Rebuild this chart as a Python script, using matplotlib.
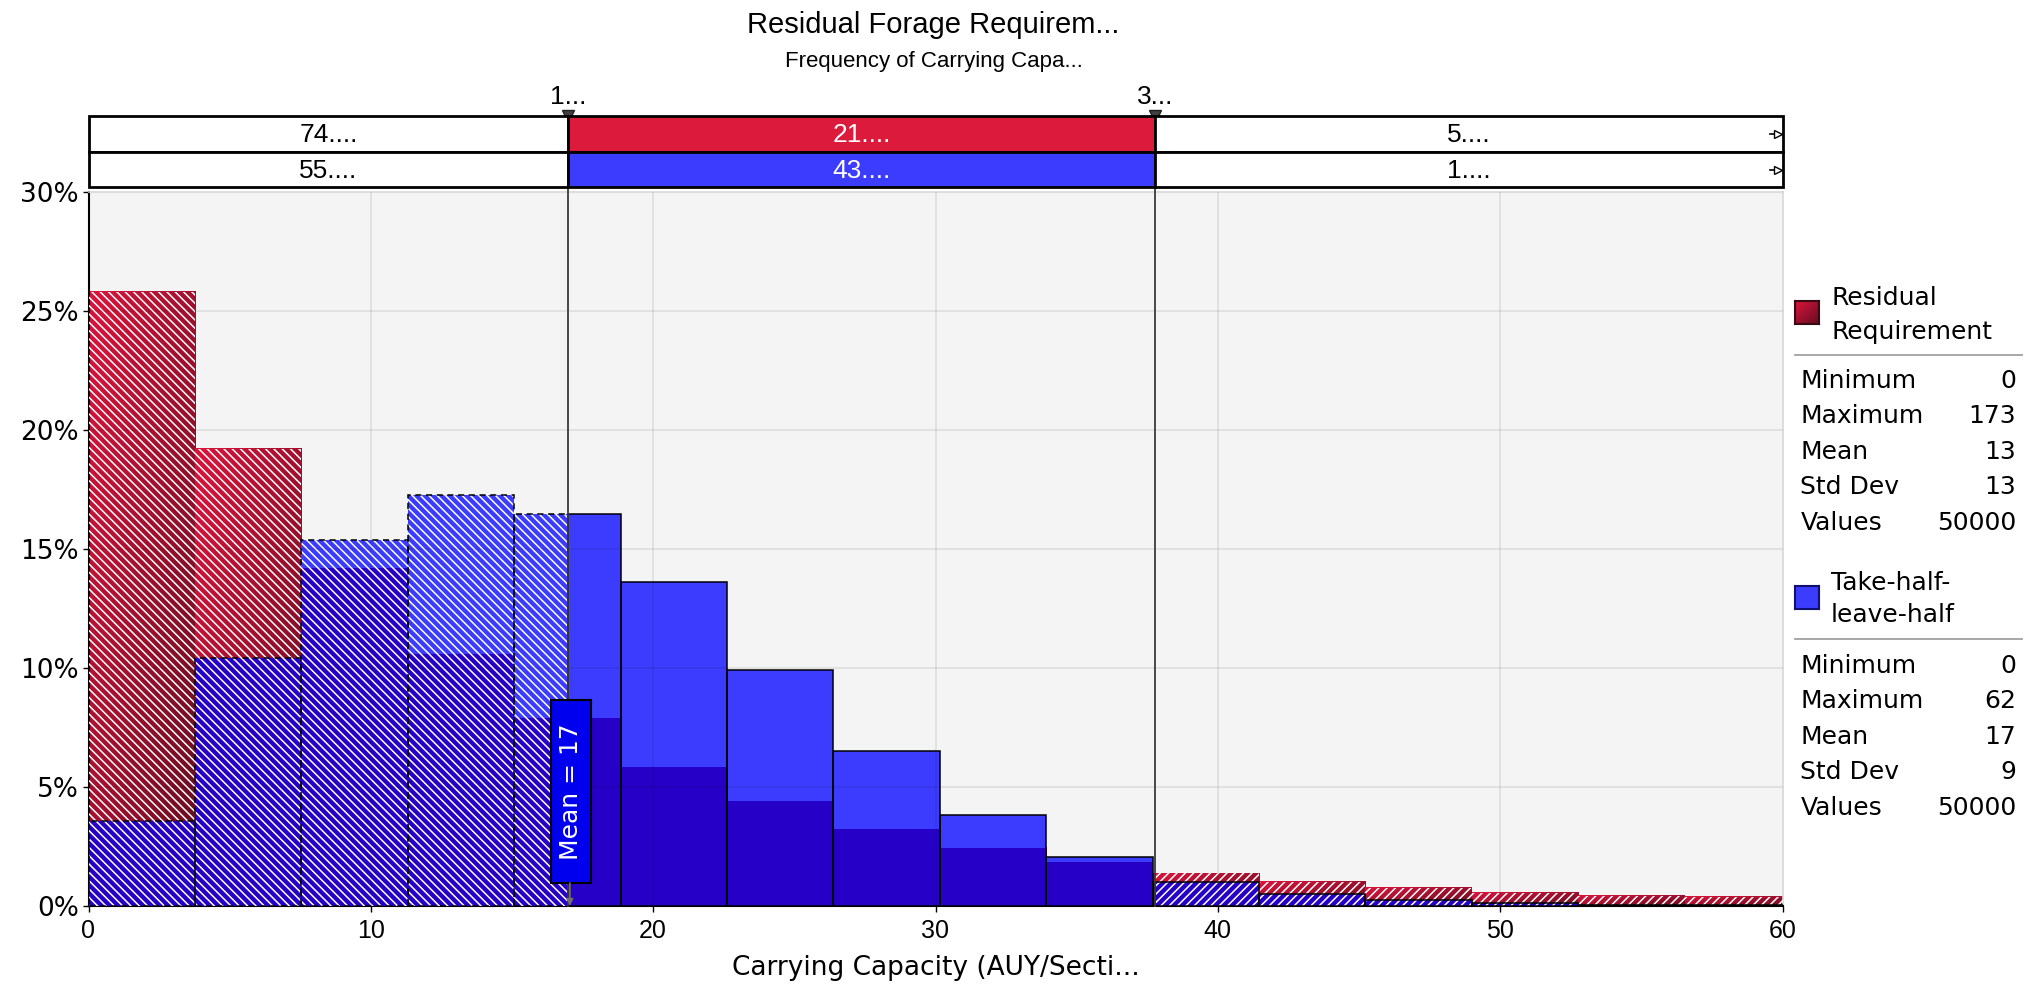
import numpy as np
import matplotlib
matplotlib.use("Agg")
import matplotlib.pyplot as plt
from matplotlib.patches import Rectangle
from matplotlib.lines import Line2D
from matplotlib.colors import LinearSegmentedColormap
from matplotlib.transforms import blended_transform_factory

# ---------------- data ----------------
bin_width = 3.769
residual_pct = [25.8, 19.2, 14.2, 10.6, 7.9, 5.85, 4.4, 3.25, 2.45, 1.83,
                1.38, 1.01, 0.76, 0.56, 0.42, 0.38]
takehalf_pct = [3.56, 10.4, 15.35, 17.25, 16.45, 13.6, 9.9, 6.5, 3.83, 2.04,
                0.99, 0.49, 0.24, 0.13, 0.06, 0.03]
x_ticks = [0, 10, 20, 30, 40, 50, 60]
y_ticks = [0, 5, 10, 15, 20, 25, 30]
y_tick_labels = ['0%', '5%', '10%', '15%', '20%', '25%', '30%']
delimiters = [17.0, 37.78]
delimiter_labels = ['1...', '3...']
residual_bands = ['74....', '21....', '5....']
takehalf_bands = ['55....', '43....', '1....']
stat_names = ['Minimum', 'Maximum', 'Mean', 'Std Dev', 'Values']
residual_stats = ['0', '173', '13', '13', '50000']
takehalf_stats = ['0', '62', '17', '9', '50000']
takehalf_mean = 17
series_names = [['Residual', 'Requirement'], ['Take-half-', 'leave-half']]
title = 'Residual Forage Requirem...'
subtitle = 'Frequency of Carrying Capa...'
xlabel = 'Carrying Capacity (AUY/Secti...'

# ---------------- style ----------------
CRIMSON = '#DC143C'
CRIMSON_DARK = '#640D20'
BLUE = '#3C3CFF'
OVERLAP = '#2600C6'
PLOT_BG = '#F4F4F4'
NARROW = ['Liberation Sans', 'DejaVu Sans']
WIDE = ['DejaVu Sans']

plt.rcParams['hatch.color'] = 'white'
plt.rcParams['hatch.linewidth'] = 1.1

W, H = 2029, 988


def fx(px):
    return px / W


def fy(py):
    return 1 - py / H


fig = plt.figure(figsize=(W / 100, H / 100), dpi=100)
fig.patch.set_facecolor('white')

X0, X1, Y0, Y1 = 88.5, 1782.5, 191.5, 906.0
ax = fig.add_axes([fx(X0), fy(Y1), (X1 - X0) / W, (Y1 - Y0) / H])
ax.set_facecolor(PLOT_BG)

red_cmap = LinearSegmentedColormap.from_list('redgrad', [CRIMSON, CRIMSON_DARK])
gx, gy = np.meshgrid(np.linspace(0, 1, 64), np.linspace(0, 1, 64))
grad = (gx + gy) / 2.0

edges = np.arange(len(residual_pct) + 1) * bin_width
back = '\\' * 4
fwd = '/' * 4
regions = [
    (0.0, delimiters[0], back, (0, (4, 3))),
    (delimiters[0], delimiters[1], None, 'solid'),
    (delimiters[1], edges[-1] + 1, fwd, 'solid'),
]

for i in range(len(residual_pct)):
    lo, hi = edges[i], edges[i + 1]
    r, t = residual_pct[i], takehalf_pct[i]
    ax.imshow(grad, extent=(lo, hi, 0, r), cmap=red_cmap, vmin=0, vmax=1,
              aspect='auto', origin='upper', interpolation='bilinear', zorder=2)
    for rlo, rhi, hatch, ls in regions:
        a, b = max(lo, rlo), min(hi, rhi)
        if b - a <= 1e-9:
            continue
        ax.bar(a, t, width=b - a, align='edge', color=BLUE, lw=0, zorder=3)
        ax.bar(a, min(r, t), width=b - a, align='edge', color=OVERLAP, lw=0, zorder=4)
        if hatch:
            ax.bar(a, max(r, t), width=b - a, align='edge', facecolor='none',
                   edgecolor='white', lw=0, hatch=hatch, zorder=5)
        ax.bar(a, t, width=b - a, align='edge', facecolor='none',
               edgecolor='black', lw=1.1, ls=ls, zorder=6)

# grid drawn over the bars, faint
for xv in x_ticks[1:-1]:
    ax.axvline(xv, color='black', alpha=0.09, lw=1.2, zorder=7)
for yv in y_ticks[1:-1]:
    ax.axhline(yv, color='black', alpha=0.09, lw=1.2, zorder=7)

ax.set_xlim(0, 60)
ax.set_ylim(0, 30)
ax.set_xticks(x_ticks)
ax.set_xticklabels([str(v) for v in x_ticks], family=NARROW, fontsize=18)
ax.set_yticks(y_ticks)
ax.set_yticklabels(y_tick_labels, family=WIDE, fontsize=19)
ax.tick_params(axis='x', length=4, width=1, pad=5, direction='out')
ax.tick_params(axis='y', length=4, width=1, pad=3, direction='out')
for side in ('left', 'bottom'):
    ax.spines[side].set_color('black')
    ax.spines[side].set_linewidth(1.5)
for side in ('top', 'right'):
    ax.spines[side].set_color('#D8D8D8')
    ax.spines[side].set_linewidth(1.2)
ax.set_xlabel(xlabel, family=WIDE, fontsize=19, labelpad=9)

# mean marker for Take-half-leave-half
box_lo, box_hi, box_w = 0.97, 8.65, 1.42
ax.add_patch(Rectangle((takehalf_mean - box_w / 2 + 0.08, box_lo), box_w, box_hi - box_lo,
                       facecolor='#0000EE', edgecolor='black', lw=1.5, zorder=10))
ax.text(takehalf_mean + 0.08, (box_lo + box_hi) / 2, f'Mean = {takehalf_mean}', rotation=90,
        color='white', ha='center', va='center', fontsize=18, family=WIDE, zorder=11)
ax.annotate('', xy=(takehalf_mean + 0.05, 0), xytext=(takehalf_mean + 0.05, box_lo),
            arrowprops=dict(arrowstyle='-|>,head_width=0.2,head_length=0.4',
                            color='#707070', lw=1.2, shrinkA=0, shrinkB=0), zorder=11)

# delimiter lines, markers and labels
ftrans = blended_transform_factory(ax.transData, fig.transFigure)
for d, lab in zip(delimiters, delimiter_labels):
    ax.add_line(Line2D([d, d], [fy(118), fy(Y1)], transform=ftrans, color='#3A3A3A',
                       lw=1.3, clip_on=False, zorder=9))
    ax.add_line(Line2D([d], [fy(116)], transform=ftrans, marker='v', markersize=9,
                       markerfacecolor='#404040', markeredgecolor='#202020',
                       clip_on=False, zorder=12))
    fig.text(0, 0, lab, transform=ftrans, fontsize=19, family=NARROW,
             ha='center', va='baseline').set_position((d, fy(104)))

# delimiter band panel above the plot
PY0, PY1 = 116.5, 187.5
pax = fig.add_axes([fx(X0), fy(PY1), (X1 - X0) / W, (PY1 - PY0) / H])
pax.set_xlim(0, 60)
pax.set_ylim(0, 2)
pax.axis('off')
bounds = [0.0, delimiters[0], delimiters[1], 60.0]
ptrans = blended_transform_factory(pax.transData, fig.transFigure)
rows = [(1, residual_bands, '#DC1A3C', 142.5), (0, takehalf_bands, BLUE, 178.0)]
for row, labels, mid_color, base in rows:
    for k in range(3):
        a, b = bounds[k], bounds[k + 1]
        fc = mid_color if k == 1 else 'white'
        pax.add_patch(Rectangle((a, row), b - a, 1, facecolor=fc, edgecolor='black',
                                lw=2, clip_on=False, zorder=2))
        fig.text(0, 0, labels[k], transform=ptrans, fontsize=19, family=NARROW,
                 color='white' if k == 1 else 'black', ha='center',
                 va='baseline').set_position(((a + b) / 2, fy(base)))
    pax.plot([59.55, 59.85], [row + 0.5, row + 0.5], color='black', lw=1.2,
             clip_on=False, zorder=3)
    pax.plot([59.85], [row + 0.5], marker='>', markersize=6, markerfacecolor='white',
             markeredgecolor='black', clip_on=False, zorder=4)

# titles
cx = fx((X0 + X1) / 2 - 2)
fig.text(cx, fy(33), title, ha='center', va='baseline', fontsize=21, family=NARROW)
fig.text(cx, fy(66.5), subtitle, ha='center', va='baseline', fontsize=16, family=NARROW)

# legend with statistics
LX, VX = 1800.5, 2016
legend_blocks = [
    (series_names[0], residual_stats, 'red', 301, (305, 338.5), 355,
     [387.5, 423, 459, 494.5, 530]),
    (series_names[1], takehalf_stats, 'blue', 586, (589.5, 622), 639,
     [673, 708, 743.5, 779, 815]),
]
for name, stats, kind, sq_top, head_base, sep_y, row_base in legend_blocks:
    sq = fig.add_axes([fx(1795), fy(sq_top + 23), 24 / W, 23 / H])
    if kind == 'red':
        sq.imshow(grad, cmap=red_cmap, vmin=0, vmax=1, aspect='auto',
                  interpolation='bilinear')
        edge = '#3A0A14'
    else:
        sq.set_facecolor(BLUE)
        edge = '#101070'
    sq.set_xticks([])
    sq.set_yticks([])
    for sp in sq.spines.values():
        sp.set_color(edge)
        sp.set_linewidth(1.5)
    for line, yb in zip(name, head_base):
        fig.text(fx(1831), fy(yb), line, ha='left', va='baseline', fontsize=18, family=WIDE)
    fig.add_artist(Line2D([fx(1795), fx(2022)], [fy(sep_y), fy(sep_y)],
                          color='#A0A0A0', lw=1.3))
    for lab, val, yb in zip(stat_names, stats, row_base):
        fig.text(fx(LX), fy(yb), lab, ha='left', va='baseline', fontsize=18, family=WIDE)
        fig.text(fx(VX), fy(yb), val, ha='right', va='baseline', fontsize=18, family=WIDE)

fig.savefig('out.png', dpi=100, facecolor='white')
